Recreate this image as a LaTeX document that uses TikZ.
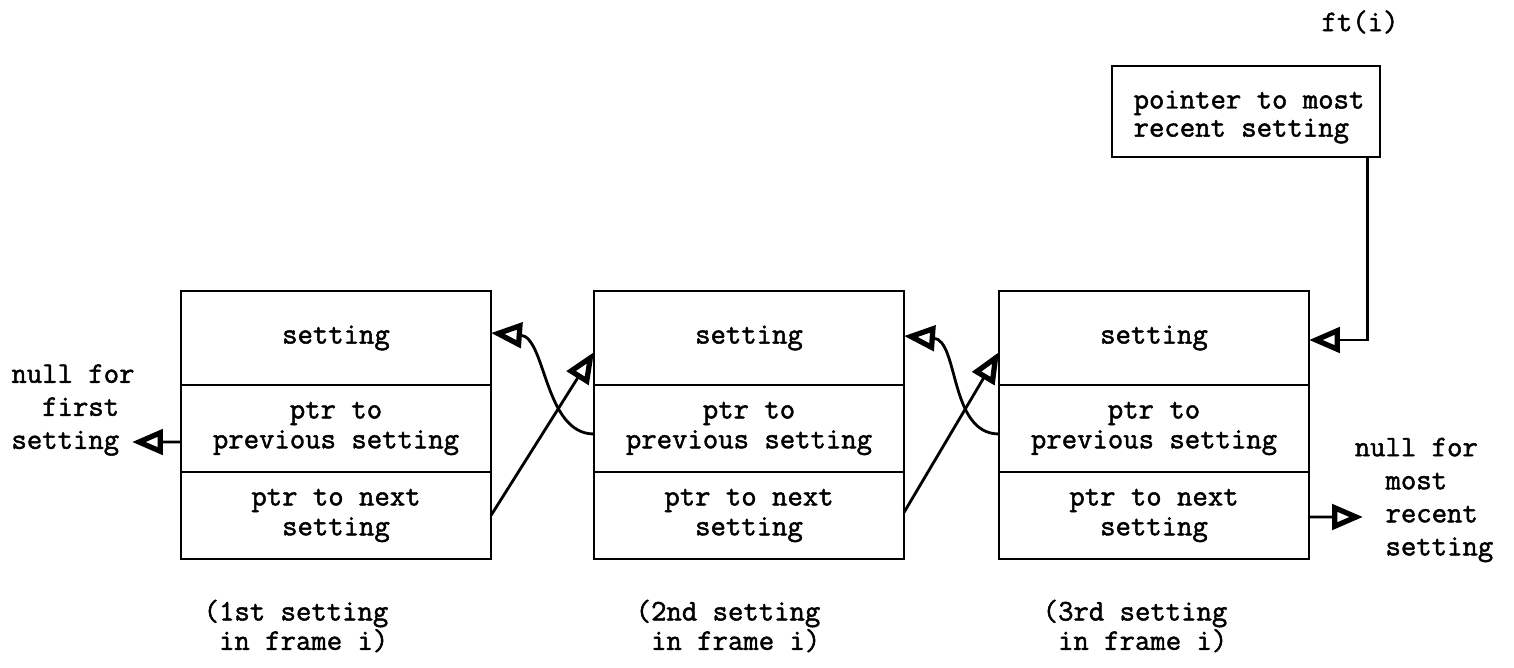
\documentclass[tikz,border=0pt]{standalone}
\usepackage{fontspec}
\newfontfamily\typewriter{Latin Modern Mono}[FakeBold=1.6]
\usetikzlibrary{arrows.meta,calc}

\begin{document}
\begin{tikzpicture}[x=0.02cm,y=-0.02cm,
  tw/.style={font=\typewriter\fontsize{17}{#1}\selectfont},
  tw/.default=17,
  cell/.style={draw, line width=1.6pt, minimum width=6.2cm, inner sep=0pt,
               outer sep=0pt, align=center, tw},
  topcell/.style={cell, minimum height=1.88cm},
  lowcell/.style={cell, minimum height=1.74cm},
  ptr/.style={line width=1.6pt,
              -{Triangle[open,length=0.62cm,width=0.5cm,line width=3pt]}},
  lbl/.style={align=left, inner sep=0pt},
]
\useasboundingbox (0,0) rectangle (1514,668);

% list records: setting / back pointer / forward pointer
\node[topcell] (t1) at (336,338)   {setting};
\node[lowcell] (m1) at (336,428.5) {ptr to\\previous setting};
\node[lowcell] (b1) at (336,515.5) {ptr to next\\setting};

\node[topcell] (t2) at (749,338)   {setting};
\node[lowcell] (m2) at (749,428.5) {ptr to\\previous setting};
\node[lowcell] (b2) at (749,515.5) {ptr to next\\setting};

\node[topcell] (t3) at (1154,338)   {setting};
\node[lowcell] (m3) at (1154,428.5) {ptr to\\previous setting};
\node[lowcell] (b3) at (1154,515.5) {ptr to next\\setting};

% captions under the records
\node[lbl, tw=15.5] (c1) at (296,626)  {(1st setting\\\ in frame i)};
\node[lbl, tw=15.5] (c2) at (728,626)  {(2nd setting\\\ in frame i)};
\node[lbl, tw=15.5] (c3) at (1135,626) {(3rd setting\\\ in frame i)};

% frame table entry
\node[tw] (ft) at (1360,22) {ft(i)};
\node[draw, line width=1.6pt, minimum width=5.36cm, minimum height=1.82cm,
      inner sep=0pt] (tb) at (1246,111.5) {};
\node[lbl, tw=16] (tbt) at (1249,117) {pointer to most\\recent setting};

% null ends
\node[lbl, tw=18.8] (nl) at (73,410)   {null for\\\ \ first\\setting};
\node[lbl, tw=18.8] (nr) at (1424,500) {null for\\\ \ most\\\ \ recent\\\ \ setting};
\coordinate (nlend) at (132,442);
\coordinate (nrend) at (1363,517);

% pointers
\draw[ptr] ($(m1.west)+(0,13.5)$) -- (nlend);
\draw[ptr] ($(b3.east)+(0,1.5)$) -- (nrend);

\draw[ptr] ($(m2.west)+(0,5.5)$) .. controls +(-50,0) and +(55,4) .. ($(t1.east)+(0,-5)$);
\draw[ptr] ($(m3.west)+(0,5.5)$) .. controls +(-50,0) and +(55,4) .. ($(t2.east)+(0,-2)$);

\draw[ptr] (b1.east) -- ($(t2.west)+(0,14)$);
\draw[ptr] ($(b2.east)+(0,-3)$) -- ($(t3.west)+(0,14)$);

\draw[ptr] ($(tb.south east)+(-14,0)$) |- ($(t3.east)+(0,2)$);
\end{tikzpicture}
\end{document}
